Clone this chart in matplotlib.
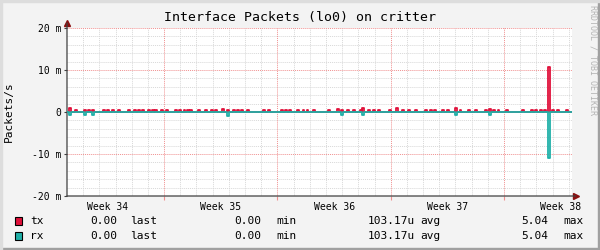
import numpy as np
import matplotlib
matplotlib.use('Agg')
import matplotlib.pyplot as plt
from matplotlib.patches import Rectangle

# sample times (days from graph start) of the small non-zero readings
blip_days = [0.12, 0.5, 1.05, 1.3, 1.55, 2.2, 2.5, 2.8, 3.15, 3.75, 4.15, 4.4, 4.65,
             5.0, 5.25, 5.45, 5.8, 6.1, 6.65, 6.95, 7.2, 7.4, 7.6, 8.1, 8.5, 8.9,
             9.15, 9.55, 9.9, 10.25, 10.5, 10.75, 11.1, 12.1, 12.4, 13.2, 13.45,
             13.7, 14.2, 14.55, 14.8, 15.2, 16.15, 16.7, 16.95, 17.3, 17.65, 18.1,
             18.25, 18.6, 18.9, 19.2, 19.9, 20.35, 20.7, 21.05, 21.5, 22.1, 22.4,
             22.7, 23.15, 23.45, 23.95, 24.25, 24.75, 25.2, 25.8, 26.1, 26.35,
             26.6, 27.15, 28.1, 28.65, 28.9, 29.2, 29.45, 29.7, 29.95, 30.25, 30.85]
# packets/s (milli range)
tx_vals = [0.0009, 0.0004, 0.0004, 0.0004, 0.0004, 0.0004, 0.0004, 0.0004, 0.0004,
           0.0004, 0.0004, 0.0004, 0.0004, 0.0004, 0.0004, 0.0004, 0.0004, 0.0004,
           0.0004, 0.0004, 0.0004, 0.0004, 0.0004, 0.0004, 0.0004, 0.0004, 0.0004,
           0.0008, 0.0004, 0.0004, 0.0004, 0.0004, 0.0004, 0.0004, 0.0004, 0.0004,
           0.0004, 0.0004, 0.0004, 0.0004, 0.0004, 0.0004, 0.0004, 0.0008, 0.0004,
           0.0004, 0.0004, 0.0004, 0.0009, 0.0004, 0.0004, 0.0004, 0.0004, 0.0009,
           0.0004, 0.0004, 0.0004, 0.0004, 0.0004, 0.0004, 0.0004, 0.0004, 0.0009,
           0.0004, 0.0004, 0.0004, 0.0004, 0.0008, 0.0004, 0.0004, 0.0004, 0.0004,
           0.0004, 0.0004, 0.0004, 0.0004, 0.0107, 0.0004, 0.0004, 0.0004]
rx_vals = [-0.0007, -0.0001, -0.0006, -0.0001, -0.0008, -0.0001, -0.0001, -0.0001,
           -0.0001, -0.0001, -0.0001, -0.0001, -0.0001, -0.0001, -0.0001, -0.0001,
           -0.0001, -0.0001, -0.0001, -0.0001, -0.0001, -0.0001, -0.0001, -0.0001,
           -0.0001, -0.0001, -0.0001, -0.0001, -0.0009, -0.0001, -0.0001, -0.0001,
           -0.0001, -0.0001, -0.0001, -0.0001, -0.0001, -0.0001, -0.0001, -0.0001,
           -0.0001, -0.0001, -0.0001, -0.0001, -0.0007, -0.0001, -0.0001, -0.0001,
           -0.0008, -0.0001, -0.0001, -0.0001, -0.0001, -0.0001, -0.0001, -0.0001,
           -0.0001, -0.0001, -0.0001, -0.0001, -0.0001, -0.0001, -0.0008, -0.0001,
           -0.0001, -0.0001, -0.0001, -0.0008, -0.0001, -0.0001, -0.0001, -0.0001,
           -0.0001, -0.0001, -0.0001, -0.0001, -0.0109, -0.0001, -0.0001, -0.0001]

span_days = 31.2
step_days = 0.12
week_starts = [6, 13, 20, 27]
week_centers = [2.5, 9.5, 16.5, 23.5, 30.5]
week_labels = ['Week 34', 'Week 35', 'Week 36', 'Week 37', 'Week 38']
y_ticks = [-0.02, -0.01, 0.0, 0.01, 0.02]
y_labels = ['-20 m', '-10 m', '0', '10 m', '20 m']

legend_rows = [
    ('tx', '#E0103A', '0.00', '0.00', '103.17u', '5.04'),
    ('rx', '#20B0A8', '0.00', '0.00', '103.17u', '5.04'),
]

MONO = 'DejaVu Sans Mono'


def to_steps(days, vals, width, end):
    # turn sparse readings into a zero-based step trace
    xs, ys = [0.0], [0.0]
    for d, v in zip(days, vals):
        xs += [d, d, d + width, d + width]
        ys += [0.0, v, v, 0.0]
    xs.append(end)
    ys.append(0.0)
    return xs, ys


fig = plt.figure(figsize=(6, 2.5), dpi=100, facecolor='#F3F3F3')
ax = fig.add_axes([67 / 600, 1 - 196 / 250, 505 / 600, 168 / 250])
ax.set_facecolor('white')

ax.set_xlim(0, span_days)
ax.set_ylim(-0.02, 0.02)

# grid
for d in np.arange(1, span_days, 1):
    if d not in week_starts:
        ax.axvline(d, color='#D8D8D8', lw=0.7, ls=(0, (1, 1)), zorder=0)
for v in np.arange(-0.018, 0.019, 0.002):
    if abs(round(v / 0.01) * 0.01 - v) > 1e-6:
        ax.axhline(v, color='#D8D8D8', lw=0.7, ls=(0, (1, 1)), zorder=0)
for d in week_starts:
    ax.axvline(d, color='#F09090', lw=0.7, ls=(0, (1, 1)), zorder=0.5)
for v in y_ticks:
    ax.axhline(v, color='#F09090', lw=0.7, ls=(0, (1, 1)), zorder=0.5)

tx_x, tx_y = to_steps(blip_days, tx_vals, step_days, span_days)
rx_x, rx_y = to_steps(blip_days, rx_vals, step_days, span_days)
ax.plot(tx_x, tx_y, color=legend_rows[0][1], lw=1.3, zorder=3)
ax.plot(rx_x, rx_y, color=legend_rows[1][1], lw=1.3, zorder=4)

for s in ax.spines.values():
    s.set_visible(False)

ax.set_yticks(y_ticks)
ax.set_yticklabels(y_labels, fontfamily=MONO, fontsize=7)
ax.set_xticks(week_starts)
ax.set_xticklabels([])
ax.set_xticks(week_centers, minor=True)
ax.set_xticklabels(week_labels, minor=True, fontfamily=MONO, fontsize=7)
ax.tick_params(axis='x', which='major', length=3, color='#F09090', width=0.8)
ax.tick_params(axis='x', which='minor', length=0, pad=4)
ax.tick_params(axis='y', length=2, color='#404040', width=0.8, pad=2)

# axes with arrowheads
ax.annotate('', xy=(1.007, 0), xytext=(0, 0), xycoords='axes fraction',
            arrowprops=dict(arrowstyle='-', color='#404040', lw=0.9,
                            shrinkA=0, shrinkB=0))
ax.annotate('', xy=(0, 1.03), xytext=(0, 0), xycoords='axes fraction',
            arrowprops=dict(arrowstyle='-', color='#404040', lw=0.9,
                            shrinkA=0, shrinkB=0))
ax.plot([1.007], [0], marker='>', ms=4, color='#8B1010', transform=ax.transAxes, clip_on=False)
ax.plot([0], [1.03], marker='^', ms=4, color='#8B1010', transform=ax.transAxes, clip_on=False)

ax.set_ylabel('Packets/s', fontfamily=MONO, fontsize=8, labelpad=4)
ax.yaxis.set_label_coords(-0.105, 0.5)

fig.text(0.5, 1 - 18 / 250, 'Interface Packets (lo0) on critter', ha='center', va='center',
         fontfamily=MONO, fontsize=9.5, color='black')
fig.text(593 / 600, 1 - 5 / 250, 'RRDTOOL / TOBI OETIKER', rotation=270, ha='center', va='top',
         fontfamily=MONO, fontsize=6, color='#B4B4B4')

# legend with stats
for i, (name, col, last, mn, avg, mx) in enumerate(legend_rows):
    y = 1 - (221 + 15 * i) / 250
    fig.patches.append(Rectangle((15 / 600, y - 4 / 250), 7 / 600, 8 / 250, transform=fig.transFigure,
                                 facecolor=col, edgecolor='black', lw=0.8))
    kw = dict(fontfamily=MONO, fontsize=8, va='center')
    fig.text(30 / 600, y, name, ha='left', **kw)
    fig.text(117 / 600, y, last, ha='right', **kw)
    fig.text(130 / 600, y, 'last', ha='left', **kw)
    fig.text(261 / 600, y, mn, ha='right', **kw)
    fig.text(276 / 600, y, 'min', ha='left', **kw)
    fig.text(415 / 600, y, avg, ha='right', **kw)
    fig.text(420 / 600, y, 'avg', ha='left', **kw)
    fig.text(548 / 600, y, mx, ha='right', **kw)
    fig.text(563 / 600, y, 'max', ha='left', **kw)

# frame: dark bottom/right edge
fig.patches.append(Rectangle((0, 0), 1, 2 / 250, transform=fig.transFigure, color='#A0A0A0'))
fig.patches.append(Rectangle((1 - 2 / 600, 0), 2 / 600, 1, transform=fig.transFigure, color='#A0A0A0'))
fig.patches.append(Rectangle((0, 1 - 2 / 250), 1, 2 / 250, transform=fig.transFigure, color='#DDDDDD'))
fig.patches.append(Rectangle((0, 0), 2 / 600, 1, transform=fig.transFigure, color='#DDDDDD'))

fig.savefig('out.png', dpi=100, facecolor=fig.get_facecolor())
